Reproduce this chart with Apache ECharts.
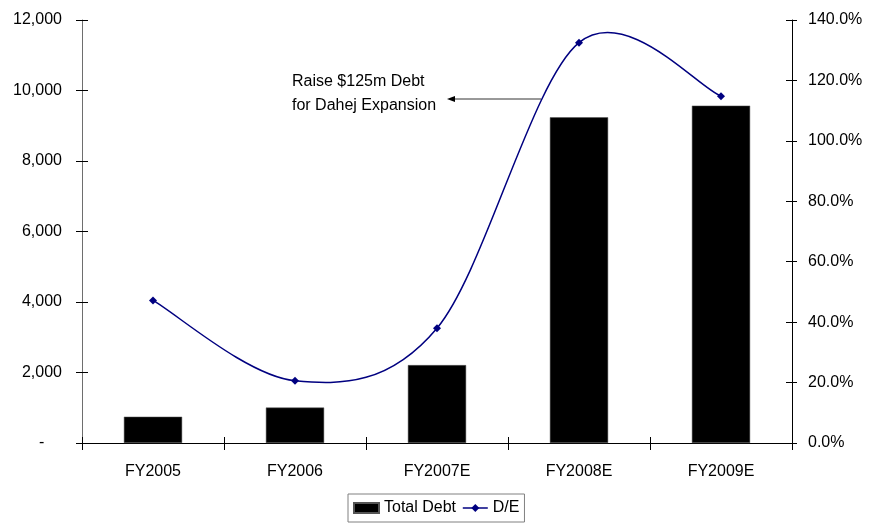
<!DOCTYPE html>
<html>
<head>
<meta charset="utf-8">
<script src="https://cdn.jsdelivr.net/npm/echarts@6/dist/echarts.min.js"></script>
<style>
  html, body { margin: 0; padding: 0; background: #fff; }
  #chart { width: 882px; height: 527px; }
</style>
</head>
<body>
<div id="chart"></div>
<script>
// Fiscal years on the category axis
const years = ['FY2005', 'FY2006', 'FY2007E', 'FY2008E', 'FY2009E'];
// Total debt (left axis)
const totalDebt = [745, 1005, 2210, 9240, 9570];
// Debt / equity ratio in percent (right axis)
const debtToEquity = [47.2, 20.6, 38.0, 132.5, 114.8];
// Axis scales
const debtTicks = { min: 0, max: 12000, interval: 2000 };
const ratioTicks = { min: 0, max: 140, interval: 20 };

const FONT = 'Liberation Sans, Arial, sans-serif';
const LINE_COLOR = '#000080';
const chart = echarts.init(document.getElementById('chart'));

const debtLabel = v => v === 0 ? '-    ' : v.toLocaleString('en-US');
const pctLabel = v => v.toFixed(1) + '%';

// Catmull-Rom style smoothed path through the D/E points (in pixel space)
function smoothPath(api) {
  const pts = debtToEquity.map((v, i) => api.coord([i, v]));
  const n = pts.length;
  let d = 'M' + pts[0][0] + ' ' + pts[0][1];
  for (let i = 0; i < n - 1; i++) {
    const p0 = pts[Math.max(i - 1, 0)];
    const p1 = pts[i];
    const p2 = pts[i + 1];
    const p3 = pts[Math.min(i + 2, n - 1)];
    const c1 = [p1[0] + (p2[0] - p0[0]) / 6, p1[1] + (p2[1] - p0[1]) / 6];
    const c2 = [p2[0] - (p3[0] - p1[0]) / 6, p2[1] - (p3[1] - p1[1]) / 6];
    d += ' C' + c1[0] + ' ' + c1[1] + ' ' + c2[0] + ' ' + c2[1] + ' ' + p2[0] + ' ' + p2[1];
  }
  return d;
}

chart.setOption({
  animation: false,
  backgroundColor: '#ffffff',
  textStyle: { fontFamily: FONT },
  grid: { left: 82, right: 90, top: 20, bottom: 84 },
  legend: {
    left: 348, top: 494,
    padding: [6, 5],
    itemGap: 6,
    itemWidth: 25, itemHeight: 10,
    borderColor: '#808080', borderWidth: 1,
    textStyle: { fontSize: 16, color: '#000', fontFamily: FONT },
    data: [
      { name: 'Total Debt', icon: 'rect' },
      { name: 'D/E', lineStyle: { color: LINE_COLOR, width: 1.5, opacity: 1 } }
    ]
  },
  xAxis: [
    {
      type: 'category', data: years, position: 'bottom',
      axisLine: { lineStyle: { color: '#000', width: 1 } },
      axisTick: { show: true, inside: false, length: 7, lineStyle: { color: '#000' } },
      axisLabel: { color: '#000', fontSize: 16, margin: 21, fontFamily: FONT }
    },
    {
      // inner half of the crossing tick marks
      type: 'category', data: years, position: 'bottom',
      axisLine: { show: false },
      axisTick: { show: true, inside: true, length: 6, lineStyle: { color: '#000' } },
      axisLabel: { show: false }
    }
  ],
  yAxis: [
    {
      type: 'value', position: 'left', ...debtTicks,
      splitLine: { show: false },
      axisLine: { show: true, lineStyle: { color: '#6e6e6e' } },
      axisTick: { show: true, inside: false, length: 6, lineStyle: { color: '#000' } },
      axisLabel: { color: '#000', fontSize: 16, margin: 20, formatter: debtLabel, fontFamily: FONT }
    },
    {
      type: 'value', position: 'right', ...ratioTicks,
      splitLine: { show: false },
      axisLine: { show: true, lineStyle: { color: '#000' } },
      axisTick: { show: true, inside: false, length: 5, lineStyle: { color: '#000' } },
      axisLabel: { color: '#000', fontSize: 16, margin: 16, formatter: pctLabel, fontFamily: FONT }
    },
    {
      type: 'value', position: 'left', ...debtTicks,
      splitLine: { show: false }, axisLine: { show: false },
      axisTick: { show: true, inside: true, length: 6, lineStyle: { color: '#000' } },
      axisLabel: { show: false }
    },
    {
      type: 'value', position: 'right', ...ratioTicks,
      splitLine: { show: false }, axisLine: { show: false },
      axisTick: { show: true, inside: true, length: 6, lineStyle: { color: '#000' } },
      axisLabel: { show: false }
    }
  ],
  series: [
    {
      name: 'Total Debt', type: 'bar',
      xAxisIndex: 0, yAxisIndex: 0,
      data: totalDebt,
      barWidth: '41%',
      itemStyle: { color: '#000000', borderColor: '#555', borderWidth: 0.5 }
    },
    {
      // smoothed D/E curve
      name: 'D/E curve', type: 'custom',
      coordinateSystem: 'cartesian2d',
      xAxisIndex: 0, yAxisIndex: 1,
      data: debtToEquity.map((v, i) => [i, v]),
      encode: { x: 0, y: 1 },
      silent: true,
      z: 4,
      renderItem: (params, api) => {
        if (params.dataIndex !== 0) return null;
        return {
          type: 'path',
          shape: { pathData: smoothPath(api) },
          style: { stroke: LINE_COLOR, lineWidth: 1.5, fill: 'none' }
        };
      }
    },
    {
      // D/E markers
      name: 'D/E', type: 'line',
      xAxisIndex: 0, yAxisIndex: 1,
      data: debtToEquity,
      symbol: 'diamond', symbolSize: 8,
      lineStyle: { color: LINE_COLOR, width: 1.5, opacity: 0 },
      itemStyle: { color: LINE_COLOR },
      z: 5
    }
  ],
  graphic: [
    {
      type: 'text', left: 292, top: 70,
      style: {
        text: 'Raise $125m Debt\nfor Dahej Expansion',
        fontSize: 16, lineHeight: 24, fill: '#000', fontFamily: FONT
      }
    },
    {
      type: 'line',
      shape: { x1: 541, y1: 99, x2: 452, y2: 99 },
      style: { stroke: '#333', lineWidth: 1 }
    },
    {
      type: 'polygon',
      shape: { points: [[447, 99], [455, 96], [455, 102]] },
      style: { fill: '#000' }
    }
  ]
});
</script>
</body>
</html>
